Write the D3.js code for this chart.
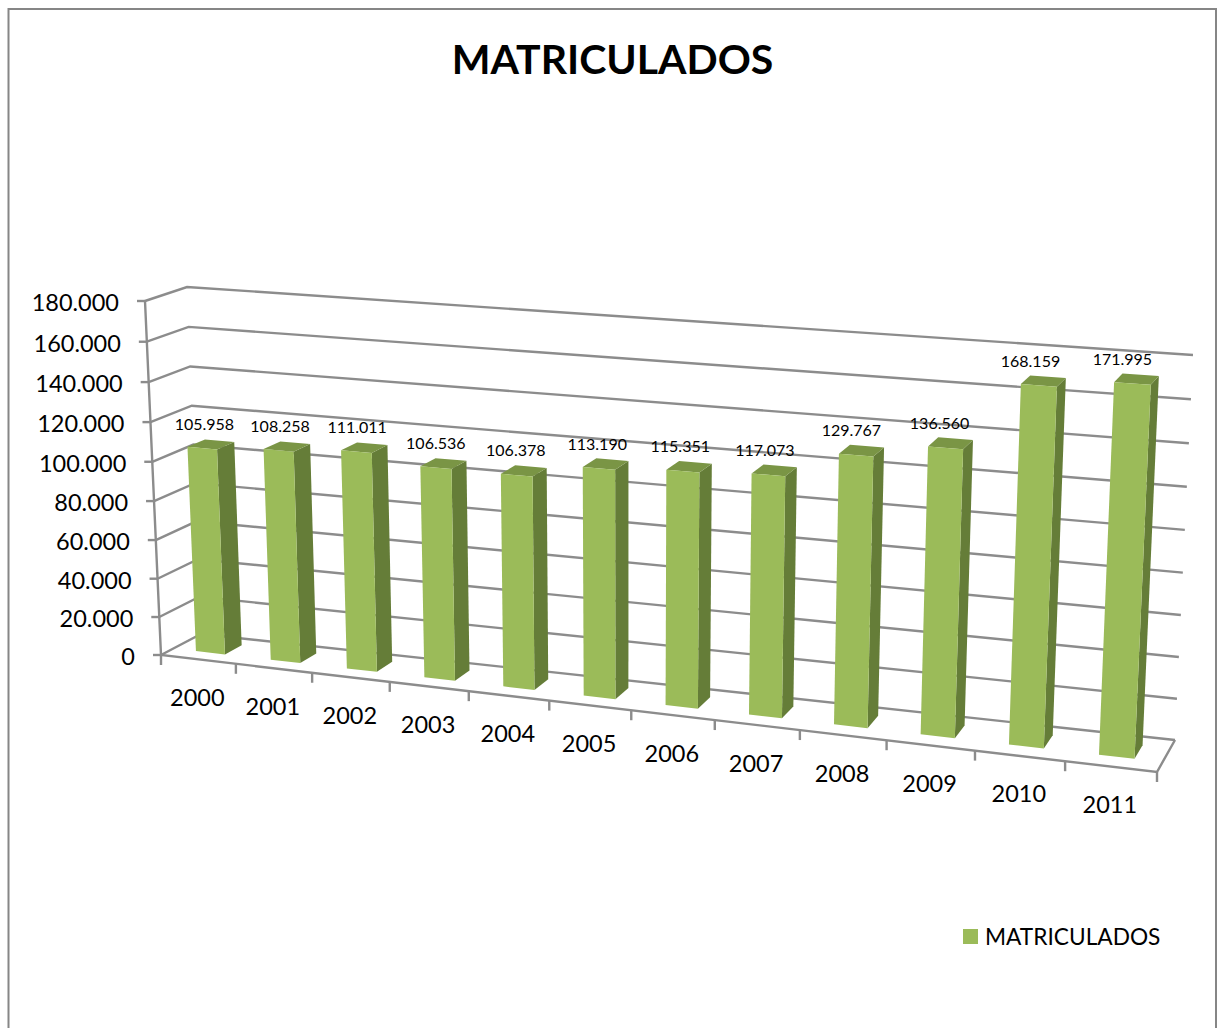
<!DOCTYPE html>
<html><head><meta charset="utf-8">
<script src="https://cdn.jsdelivr.net/npm/d3@7"></script>
<style>html,body{margin:0;padding:0;background:#fff;overflow:hidden}svg{display:block}text{font-family:Lato,Carlito,sans-serif;fill:#000}</style>
</head><body><div id="chart"></div>
<script>
const years = ["2000","2001","2002","2003","2004","2005","2006","2007","2008","2009","2010","2011"];
const matriculados = [105958,108258,111011,106536,106378,113190,115351,117073,129767,136560,168159,171995];
const valueTicks = [0,20000,40000,60000,80000,100000,120000,140000,160000,180000];
const seriesName = "MATRICULADOS";
const W = 1221, H = 1028;
const colors = {front:"#9BBB59", side:"#657D38", top:"#7A9545", grid:"#8C8C8C", frame:"#868686"};

// Corners of the 3D plot box as seen on the page: [s, v, w] = along, up, depth.
const box = {
  f00:[161,655], f10:[1157,772], f01:[145,301], f11:[1175,375],
  b00:[201,634], b10:[1175,740], b01:[187,287], b11:[1193,355]
};
const persp = 1.118, perspV = 1.04, barDepth = [0.31, 0.74];
const warp = (u, k) => u / (u + k * (1 - u));
const lerp = (a, b, t) => a + (b - a) * t;
function project(u, v, w) {
  const s = warp(u, persp), t = warp(v, perspV);
  return [0, 1].map(k => {
    const f0 = lerp(box.f00[k], box.f10[k], s), f1 = lerp(box.f01[k], box.f11[k], s);
    const b0 = lerp(box.b00[k], box.b10[k], s), b1 = lerp(box.b01[k], box.b11[k], s);
    return lerp(lerp(f0, b0, w), lerp(f1, b1, w), t);
  });
}
const x = d3.scaleBand().domain(years).range([0, 1]).paddingInner(0.61).paddingOuter(0.305);
const tickU = d3.scaleLinear().domain([0, years.length]).range([0, 1]);
const y = d3.scaleLinear().domain([0, 180000]).range([0, 1]);
const fmt = d3.formatLocale({decimal:",", thousands:".", grouping:[3], currency:["",""]}).format(",d");
const line = d3.line();
const poly = pts => line(pts) + "Z";

const svg = d3.select("#chart").append("svg").attr("width", W).attr("height", H).attr("viewBox", `0 0 ${W} ${H}`);
svg.append("rect").attr("width", W).attr("height", H).attr("fill", "#fff");
svg.append("rect").attr("x", 8.5).attr("y", 9).attr("width", 1207.5).attr("height", 1040)
  .attr("fill", "none").attr("stroke", colors.frame).attr("stroke-width", 2);

svg.append("text").attr("x", 612.5).attr("y", 74).attr("text-anchor", "middle")
  .attr("font-size", 41).attr("font-weight", 700).text("MATRICULADOS");

// gridlines: side wall + back wall
const grid = svg.append("g").attr("fill", "none").attr("stroke", colors.grid).attr("stroke-width", 2.4);
grid.selectAll("path.g").data(valueTicks).join("path").attr("class", "g")
  .attr("d", d => line([project(0, y(d), 0), project(0, y(d), 1), project(1, y(d), 1)]));
// value axis, floor edges
grid.append("path").attr("d", line([project(0, 1, 0), project(0, 0, 0), project(1, 0, 0), project(1, 0, 1)]));
// ticks
grid.selectAll("path.vt").data(valueTicks).join("path").attr("class", "vt")
  .attr("d", d => { const p = project(0, y(d), 0); return line([[p[0] - 8, p[1]], p]); });
grid.selectAll("path.ct").data(d3.range(years.length + 1)).join("path").attr("class", "ct")
  .attr("d", i => { const p = project(tickU(i), 0, 0); return line([p, [p[0], p[1] + 10]]); });

// value labels
svg.append("g").attr("text-anchor", "end").attr("font-size", 23.5)
  .selectAll("text").data(valueTicks).join("text")
  .attr("x", d => project(0, y(d), 0)[0] - 26)
  .attr("y", d => project(0, y(d), 0)[1] + 10)
  .text(d => fmt(d));

// category labels
svg.append("g").attr("text-anchor", "middle").attr("font-size", 23.5)
  .selectAll("text").data(years).join("text")
  .attr("x", d => project(x(d) + x.bandwidth() / 2, 0, 0)[0] - 1)
  .attr("y", d => project(x(d) + x.bandwidth() / 2, 0, 0)[1] + 46.5)
  .text(d => d);

// bars
const bars = svg.append("g").selectAll("g").data(years.map((c, i) => ({c, v: matriculados[i]}))).join("g");
const corner = (d, side, top, back) => project(x(d.c) + (side ? x.bandwidth() : 0), top ? y(d.v) : 0, barDepth[back ? 1 : 0]);
bars.append("path").attr("fill", colors.side)
  .attr("d", d => poly([corner(d,1,0,0), corner(d,1,1,0), corner(d,1,1,1), corner(d,1,0,1)]));
bars.append("path").attr("fill", colors.top)
  .attr("d", d => poly([corner(d,0,1,0), corner(d,1,1,0), corner(d,1,1,1), corner(d,0,1,1)]));
bars.append("path").attr("fill", colors.front)
  .attr("d", d => poly([corner(d,0,0,0), corner(d,1,0,0), corner(d,1,1,0), corner(d,0,1,0)]));

// data labels
svg.append("g").attr("text-anchor", "middle").attr("font-size", 16)
  .selectAll("text").data(years.map((c, i) => ({c, v: matriculados[i]}))).join("text")
  .attr("x", d => project(x(d.c) + x.bandwidth() / 2, y(d.v) * 0.5, 0.31)[0] - 2)
  .attr("y", d => project(x(d.c) + x.bandwidth() / 2, y(d.v), 0.5)[1] - 15)
  .text(d => fmt(d.v));

// legend
svg.append("rect").attr("x", 963).attr("y", 929).attr("width", 15).attr("height", 15).attr("fill", colors.front);
svg.append("text").attr("x", 985).attr("y", 945).attr("font-size", 22.7).text(seriesName);
</script></body></html>
